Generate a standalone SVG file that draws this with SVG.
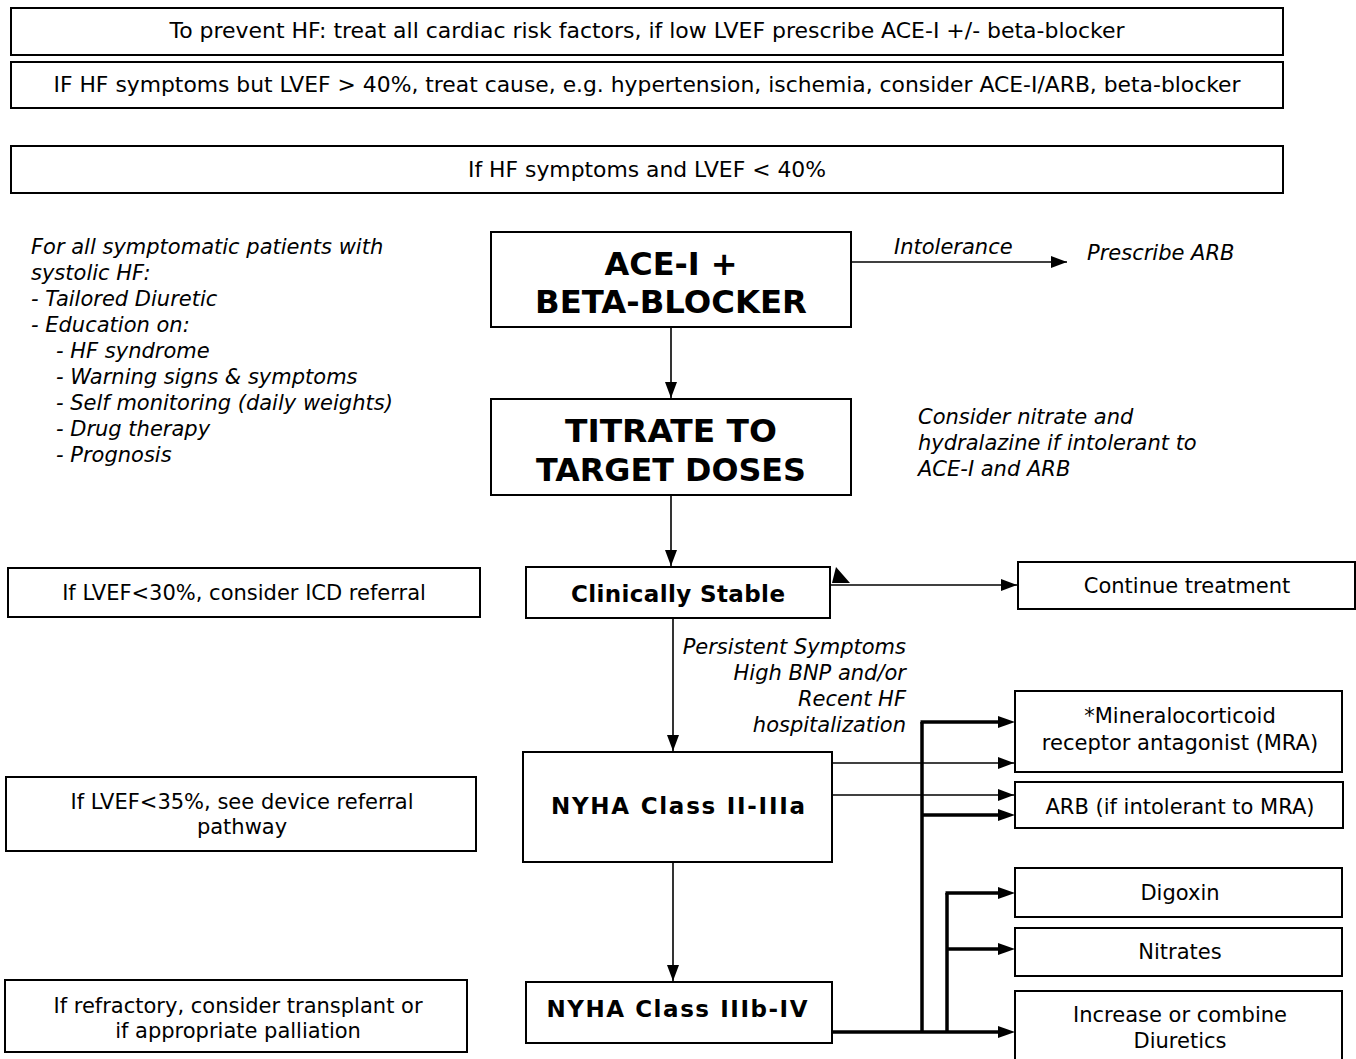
<svg xmlns="http://www.w3.org/2000/svg" width="1356" height="1059" viewBox="0 0 1356 1059">
<style>
.box{fill:#fff;stroke:#000;stroke-width:2}
.t{font-family:"DejaVu Sans",Verdana,sans-serif;font-size:21px;fill:#000}
.c{text-anchor:middle}
.b{font-weight:bold;font-size:23px}
.i{font-style:italic}
.big{font-size:32px;font-weight:bold}
.ln{stroke:#000;stroke-width:1.6;fill:none}
.thk{stroke:#000;stroke-width:3.5;fill:none}
</style>
<defs>
<marker id="ah" markerWidth="16" markerHeight="12" refX="16" refY="6" orient="auto" markerUnits="userSpaceOnUse">
<path d="M0,0 L16,6 L0,12 Z" fill="#000"/>
</marker>
</defs>

<g id="prevent"><rect class="box" x="11" y="8" width="1272" height="47"/><text class="t c" x="647" y="38" font-size="19" textLength="955" lengthAdjust="spacingAndGlyphs">To prevent HF: treat all cardiac risk factors, if low LVEF prescribe ACE-I +/- beta-blocker</text></g>
<g id="lvef-gt40"><rect class="box" x="11" y="62" width="1272" height="46"/><text class="t c" x="647" y="92" font-size="19" textLength="1187" lengthAdjust="spacingAndGlyphs">IF HF symptoms but LVEF &gt; 40%, treat cause, e.g. hypertension, ischemia, consider ACE-I/ARB, beta-blocker</text></g>
<g id="lvef-lt40"><rect class="box" x="11" y="146" width="1272" height="47"/><text class="t c" x="647" y="177" font-size="19" textLength="358" lengthAdjust="spacingAndGlyphs">If HF symptoms and LVEF &lt; 40%</text></g>

<g id="education"><text class="t i" x="31" y="254">For all symptomatic patients with</text><text class="t i" x="31" y="280">systolic HF:</text><text class="t i" x="31" y="306">- Tailored Diuretic</text><text class="t i" x="31" y="332">- Education on:</text><text class="t i" x="56" y="358">- HF syndrome</text><text class="t i" x="56" y="384">- Warning signs &amp; symptoms</text><text class="t i" x="56" y="410">- Self monitoring (daily weights)</text><text class="t i" x="56" y="436">- Drug therapy</text><text class="t i" x="56" y="462">- Prognosis</text></g>

<g id="ace"><rect class="box" x="491" y="232" width="360" height="95"/><text class="t c big" x="671" y="275">ACE-I +</text><text class="t c big" x="671" y="313" textLength="272" lengthAdjust="spacingAndGlyphs">BETA-BLOCKER</text></g>
<g id="prescribe-arb"><text class="t i" x="1087" y="260">Prescribe ARB</text></g>
<g id="titrate"><rect class="box" x="491" y="399" width="360" height="96"/><text class="t c big" x="671" y="442" textLength="212" lengthAdjust="spacingAndGlyphs">TITRATE TO</text><text class="t c big" x="671" y="481" textLength="270" lengthAdjust="spacingAndGlyphs">TARGET DOSES</text></g>
<g id="nitrate-note"><text class="t i" x="918" y="424">Consider nitrate and</text><text class="t i" x="918" y="450">hydralazine if intolerant to</text><text class="t i" x="918" y="476">ACE-I and ARB</text></g>

<g id="icd"><rect class="box" x="8" y="568" width="472" height="49"/><text class="t c" x="244" y="600">If LVEF&lt;30%, consider ICD referral</text></g>
<g id="stable"><rect class="box" x="526" y="567" width="304" height="51"/><text class="t c b" x="678" y="602" textLength="214" lengthAdjust="spacing">Clinically Stable</text></g>
<g id="continue"><rect class="box" x="1018" y="562" width="337" height="47"/><text class="t c" x="1187" y="593">Continue treatment</text></g>

<g id="device"><rect class="box" x="6" y="777" width="470" height="74"/><text class="t c" x="242" y="809">If LVEF&lt;35%, see device referral</text><text class="t c" x="242" y="834">pathway</text></g>
<g id="nyha2"><rect class="box" x="523" y="752" width="309" height="110"/><text class="t c b" x="678" y="814" textLength="254" lengthAdjust="spacing">NYHA Class II-IIIa</text></g>
<g id="mra"><rect class="box" x="1015" y="691" width="327" height="81"/><text class="t c" x="1180" y="723">*Mineralocorticoid</text><text class="t c" x="1180" y="750">receptor antagonist (MRA)</text></g>
<g id="arb"><rect class="box" x="1015" y="782" width="328" height="46"/><text class="t c" x="1180" y="814">ARB (if intolerant to MRA)</text></g>
<g id="digoxin"><rect class="box" x="1015" y="868" width="327" height="49"/><text class="t c" x="1180" y="900">Digoxin</text></g>
<g id="nitrates"><rect class="box" x="1015" y="928" width="327" height="48"/><text class="t c" x="1180" y="959">Nitrates</text></g>
<g id="diuretics"><rect class="box" x="1015" y="991" width="327" height="80"/><text class="t c" x="1180" y="1022">Increase or combine</text><text class="t c" x="1180" y="1048">Diuretics</text></g>

<g id="refractory"><rect class="box" x="5" y="980" width="462" height="72"/><text class="t c" x="238" y="1013">If refractory, consider transplant or</text><text class="t c" x="238" y="1038">if appropriate palliation</text></g>
<g id="nyha3"><rect class="box" x="526" y="982" width="306" height="61"/><text class="t c b" x="677" y="1017" textLength="261" lengthAdjust="spacing">NYHA Class IIIb-IV</text></g>

<g id="connectors">
<line class="ln" x1="671" y1="327" x2="671" y2="398" marker-end="url(#ah)"/>
<line class="ln" x1="851" y1="262" x2="1067" y2="262" marker-end="url(#ah)"/>
<text class="t i" x="894" y="254">Intolerance</text>
<line class="ln" x1="671" y1="495" x2="671" y2="566" marker-end="url(#ah)"/>
<line class="ln" x1="831" y1="585" x2="1017" y2="585" marker-end="url(#ah)"/>
<polygon points="836,567 832,583 850,583" fill="#000"/>
<line class="ln" x1="673" y1="618" x2="673" y2="751" marker-end="url(#ah)"/>
<text class="t i" text-anchor="end" x="906" y="654">Persistent Symptoms</text>
<text class="t i" text-anchor="end" x="906" y="680">High BNP and/or</text>
<text class="t i" text-anchor="end" x="906" y="706">Recent HF</text>
<text class="t i" text-anchor="end" x="906" y="732">hospitalization</text>
<line class="ln" x1="832" y1="763" x2="1014" y2="763" marker-end="url(#ah)"/>
<line class="ln" x1="832" y1="795" x2="1014" y2="795" marker-end="url(#ah)"/>
<line class="ln" x1="673" y1="862" x2="673" y2="981" marker-end="url(#ah)"/>
<path class="thk" d="M922,1032 V722"/>
<path class="thk" d="M920.5,722 H1000"/>
<path class="thk" d="M922,815 H1000"/>
<path class="thk" d="M947,1032 V893"/>
<path class="thk" d="M945.5,893 H1000"/>
<path class="thk" d="M947,949 H1000"/>
<path class="thk" d="M832,1032 H1000"/>
<polygon points="998,716 1015,722 998,728" fill="#000"/>
<polygon points="998,809 1015,815 998,821" fill="#000"/>
<polygon points="998,887 1015,893 998,899" fill="#000"/>
<polygon points="998,943 1015,949 998,955" fill="#000"/>
<polygon points="998,1026 1015,1032 998,1038" fill="#000"/>
</g>
</svg>
